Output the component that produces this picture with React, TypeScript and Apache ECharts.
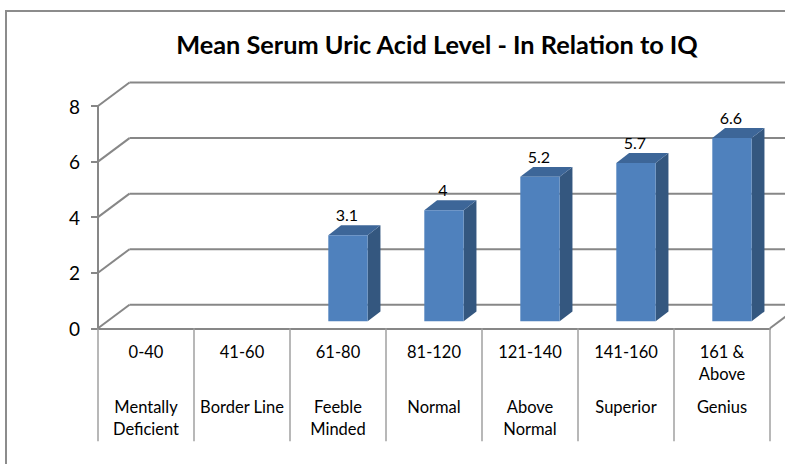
import React, { useEffect, useRef } from "react";
import * as echarts from "echarts";

const TITLE = "Mean Serum Uric Acid Level - In Relation to IQ";
const ranges = ["0-40", "41-60", "61-80", "81-120", "121-140", "141-160", "161 &\nAbove"];
const groups = ["Mentally\nDeficient", "Border Line", "Feeble\nMinded", "Normal", "Above\nNormal", "Superior", "Genius"];
const values: (number | null)[] = [null, null, 3.1, 4, 5.2, 5.7, 6.6];
const yTicks = [0, 2, 4, 6, 8];

const FONT = "Lato, 'Noto Sans', sans-serif";
const DX = 31.5;
const DY = -23.5;

export default function App() {
  const ref = useRef<HTMLDivElement>(null);
  useEffect(() => {
    if (!ref.current) return;
    const chart = echarts.init(ref.current, null, { renderer: "svg" });
    const gridColor = "#878787";
    const option: any = {
      animation: false,
      backgroundColor: "#ffffff",
      textStyle: { fontFamily: FONT },
      graphic: [
        {
          type: "rect",
          shape: { x: 6, y: 11, width: 900, height: 600 },
          style: { fill: "none", stroke: "#8c8c8c", lineWidth: 2 },
          z: -10,
        },
        {
          type: "text",
          x: 437,
          y: 44,
          style: {
            text: TITLE,
            fontFamily: FONT,
            fontWeight: "bold",
            fontSize: 25.3,
            fill: "#000",
            textAlign: "center",
            textVerticalAlign: "middle",
          },
        },
      ],
      grid: { left: 98, right: 15, top: 106, bottom: 135.7 },
      xAxis: [
        {
          type: "category",
          data: ranges,
          position: "bottom",
          axisLine: { show: true, lineStyle: { color: gridColor, width: 2 } },
          axisTick: { show: true, length: 113, interval: 0, lineStyle: { color: "#a0a0a0", width: 1.5 } },
          axisLabel: { interval: 0, margin: 13, color: "#000", fontSize: 16.5, lineHeight: 21.6, fontFamily: FONT, align: "center" },
          splitLine: { show: false },
        },
        {
          type: "category",
          data: groups,
          position: "bottom",
          axisLine: { show: false },
          axisTick: { show: false },
          axisLabel: { interval: 0, margin: 68, color: "#000", fontSize: 16.5, lineHeight: 22, fontFamily: FONT, align: "center" },
          splitLine: { show: false },
        },
      ],
      yAxis: {
        type: "value",
        min: 0,
        max: 8,
        interval: 2,
        axisLine: { show: true, lineStyle: { color: gridColor, width: 2 } },
        axisTick: { show: true, length: 7, lineStyle: { color: gridColor, width: 2 } },
        axisLabel: { margin: 18, color: "#000", fontSize: 19, fontFamily: FONT },
        splitLine: { show: false },
      },
      series: [
        {
          type: "custom",
          z: 1,
          silent: true,
          data: yTicks.map((v) => [0, v]),
          renderItem: (params: any, api: any) => {
            const cs = params.coordSys;
            const v = api.value(1);
            const p = api.coord([0, v]);
            const y = p[1];
            const x0 = cs.x;
            const x1 = cs.x + cs.width;
            const ls = { stroke: gridColor, lineWidth: 2, fill: "none" };
            const children: any[] = [
              { type: "line", shape: { x1: x0, y1: y, x2: x0 + DX, y2: y + DY }, style: ls },
              { type: "line", shape: { x1: x0 + DX, y1: y + DY, x2: x1 + DX, y2: y + DY }, style: ls },
            ];
            if (v === 0) {
              children.push({ type: "line", shape: { x1: x1, y1: y, x2: x1 + DX, y2: y + DY }, style: ls });
            }
            return { type: "group", children };
          },
        },
        {
          type: "custom",
          z: 5,
          data: values.map((v, i) => [i, v]),
          renderItem: (params: any, api: any) => {
            const v = api.value(1);
            if (v == null || isNaN(v)) return null;
            const i = api.value(0);
            const base = api.coord([i, 0]);
            const top = api.coord([i, v]);
            const band = api.size([1, 0])[0];
            const w = band * 0.41;
            const ox = band * 0.104;
            const oy = -7;
            const dx = 12.8;
            const dy = -9.8;
            const x0 = base[0] + ox - w / 2;
            const x1 = x0 + w;
            const yb = base[1] + oy;
            const yt = top[1] + oy;
            return {
              type: "group",
              children: [
                {
                  type: "polygon",
                  shape: { points: [[x1, yt], [x1 + dx, yt + dy], [x1 + dx, yb + dy], [x1, yb]] },
                  style: { fill: "#34577f" },
                },
                {
                  type: "polygon",
                  shape: { points: [[x0, yt], [x0 + dx, yt + dy], [x1 + dx, yt + dy], [x1, yt]] },
                  style: { fill: "#3d6698" },
                },
                {
                  type: "rect",
                  shape: { x: x0, y: yt, width: w, height: yb - yt },
                  style: { fill: "#4f81bd" },
                },
                {
                  type: "text",
                  x: x0 + w / 2 - 1,
                  y: yt + dy - 11,
                  style: {
                    text: String(v),
                    fontFamily: FONT,
                    fontSize: 16,
                    fill: "#000",
                    textAlign: "center",
                    textVerticalAlign: "middle",
                  },
                },
              ],
            };
          },
        },
      ],
    };
    chart.setOption(option);
    return () => chart.dispose();
  }, []);
  return (
    <div
      ref={ref}
      style={{ position: "fixed", left: 0, top: 0, width: 785, height: 464, background: "#fff" }}
    />
  );
}
